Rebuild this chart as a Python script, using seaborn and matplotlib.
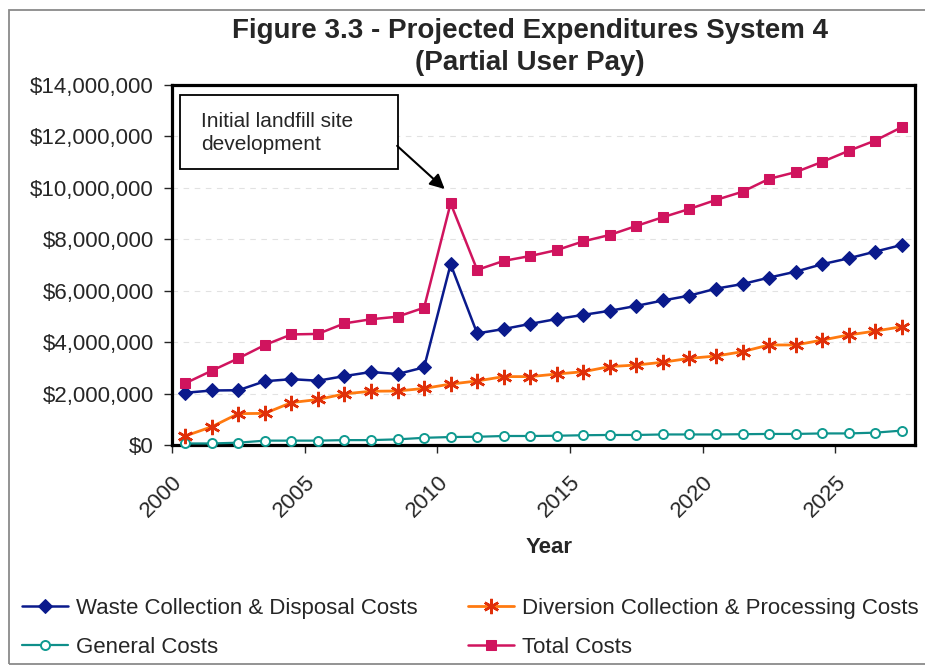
import matplotlib
matplotlib.use("Agg")
import matplotlib.pyplot as plt
import matplotlib.ticker as mticker
import matplotlib.transforms as mtransforms
from matplotlib.patches import Rectangle
import seaborn as sns
import pandas as pd

# ---- data (dollars per year) ----
years = list(range(2000, 2028))

waste_costs = [2030000, 2120000, 2130000, 2480000, 2560000, 2500000, 2680000,
               2840000, 2760000, 3020000, 7030000, 4340000, 4510000, 4710000,
               4900000, 5060000, 5220000, 5410000, 5620000, 5810000, 6080000,
               6260000, 6510000, 6740000, 7030000, 7260000, 7520000, 7780000]

diversion_costs = [350000, 710000, 1220000, 1230000, 1650000, 1770000, 1990000,
                   2090000, 2100000, 2200000, 2370000, 2490000, 2660000, 2660000,
                   2760000, 2850000, 3050000, 3110000, 3220000, 3370000, 3460000,
                   3630000, 3890000, 3890000, 4080000, 4280000, 4430000, 4600000]

general_costs = [60000, 60000, 90000, 170000, 170000, 170000, 190000, 190000,
                 220000, 280000, 310000, 320000, 350000, 350000, 360000, 380000,
                 390000, 390000, 410000, 410000, 410000, 420000, 430000, 430000,
                 450000, 450000, 480000, 560000]

total_costs = [2400000, 2890000, 3370000, 3890000, 4300000, 4320000, 4730000,
               4890000, 4990000, 5340000, 9400000, 6810000, 7160000, 7350000,
               7580000, 7920000, 8170000, 8520000, 8860000, 9180000, 9530000,
               9850000, 10350000, 10610000, 11010000, 11440000, 11840000, 12360000]

series_names = ["Waste Collection & Disposal Costs",
                "Diversion Collection & Processing Costs",
                "General Costs",
                "Total Costs"]

tick_years = [2000, 2005, 2010, 2015, 2020, 2025]

# ---- style ----
sns.set_style("white")
plt.rcParams["font.family"] = ["Liberation Sans", "DejaVu Sans"]

fig = plt.figure(figsize=(9.25, 6.67), dpi=100)
W, H = 925, 667
ax = fig.add_axes([172 / W, 1 - 445 / H, (915 - 172) / W, (445 - 85) / H])

df = pd.DataFrame({
    "Year": years,
    series_names[0]: waste_costs,
    series_names[1]: diversion_costs,
    series_names[2]: general_costs,
    series_names[3]: total_costs,
})

styles = {
    series_names[0]: dict(color="#0a1a8c", marker="D", markersize=7,
                          markerfacecolor="#0a1a8c", markeredgecolor="#0a1a8c",
                          linewidth=1.8),
    series_names[1]: dict(color="#ff7a10", marker=(6, 2, 0), markersize=11,
                          markerfacecolor="#e0300a", markeredgecolor="#e0300a",
                          markeredgewidth=1.8, linewidth=2.0),
    series_names[2]: dict(color="#0f8f8a", marker="o", markersize=6.5,
                          markerfacecolor="white", markeredgecolor="#0f9a90",
                          markeredgewidth=1.4, linewidth=1.6),
    series_names[3]: dict(color="#d0145e", marker="s", markersize=7.5,
                          markerfacecolor="#d0145e", markeredgecolor="#d0145e",
                          linewidth=1.8),
}

draw_order = [series_names[2], series_names[1], series_names[0], series_names[3]]
for name in draw_order:
    sns.lineplot(data=df, x="Year", y=name, ax=ax, label=name, legend=False,
                 clip_on=False, zorder=3, **styles[name])

# ---- axes ----
ax.set_xlim(years[0] - 0.5, years[-1] + 0.5)
ax.set_ylim(0, 14000000)
ax.yaxis.set_major_locator(mticker.MultipleLocator(2000000))
ax.yaxis.set_major_formatter(mticker.FuncFormatter(lambda v, p: f"${v:,.0f}"))

ax.set_xticks([y - 0.5 for y in tick_years])
ax.set_xticklabels([str(y) for y in tick_years], rotation=45, ha="right",
                   rotation_mode="anchor", fontsize=16)
shift = mtransforms.ScaledTranslation(-4 / 100, 0, fig.dpi_scale_trans)
for lbl in ax.get_xticklabels():
    lbl.set_transform(lbl.get_transform() + shift)
ax.tick_params(axis="y", labelsize=16, length=6, width=1, direction="out",
               pad=7, left=True)
ax.tick_params(axis="x", length=6, width=1, direction="out", pad=13,
               bottom=True)

ax.yaxis.grid(True, color="#e2e2e2", linestyle=(0, (5, 5)), linewidth=0.8)
ax.set_axisbelow(True)

for sp in ax.spines.values():
    sp.set_visible(True)
    sp.set_color("black")
    sp.set_linewidth(2.3)

ax.set_ylabel("")
ax.set_xlabel("Year", fontsize=16, fontweight="bold")
ax.xaxis.set_label_coords(0.507, -0.255)

# ---- title ----
fig.text(530 / W, 1 - 31 / H, "Figure 3.3 - Projected Expenditures System 4",
         ha="center", va="center", fontsize=20, fontweight="bold")
fig.text(530 / W, 1 - 63 / H, "(Partial User Pay)",
         ha="center", va="center", fontsize=20, fontweight="bold")

# ---- callout ----
ax.add_patch(Rectangle((0.0108, 0.767), 0.293, 0.205, transform=ax.transAxes,
                       fill=True, facecolor="white", edgecolor="black",
                       linewidth=1.3, zorder=5))
ax.text(0.039, 0.866, "Initial landfill site\ndevelopment", transform=ax.transAxes,
        ha="left", va="center", fontsize=15, zorder=6, linespacing=1.3)
ax.annotate("", xy=(0.367, 0.711), xycoords="axes fraction",
            xytext=(0.303, 0.831), textcoords="axes fraction",
            arrowprops=dict(arrowstyle="-|>", color="black", lw=1.5,
                            mutation_scale=22, shrinkA=0, shrinkB=0),
            zorder=6)

# ---- legend ----
handles, labels = ax.get_legend_handles_labels()
lookup = dict(zip(labels, handles))
order = [series_names[0], series_names[2], series_names[1], series_names[3]]
fig.legend([lookup[n] for n in order], order, ncol=2, loc="upper left",
           bbox_to_anchor=(22 / W, 1 - 598 / H), bbox_transform=fig.transFigure,
           frameon=False, borderpad=0, borderaxespad=0, fontsize=16,
           handlelength=2.05, handletextpad=0.36, columnspacing=2.3,
           labelspacing=0.8)

# ---- chart border ----
fig.add_artist(Rectangle((9 / W, 3 / H), 1.2, (664 - 10) / H,
                         transform=fig.transFigure, fill=False,
                         edgecolor="#8a8a8a", linewidth=1.3))

fig.savefig("out.png", dpi=100)
